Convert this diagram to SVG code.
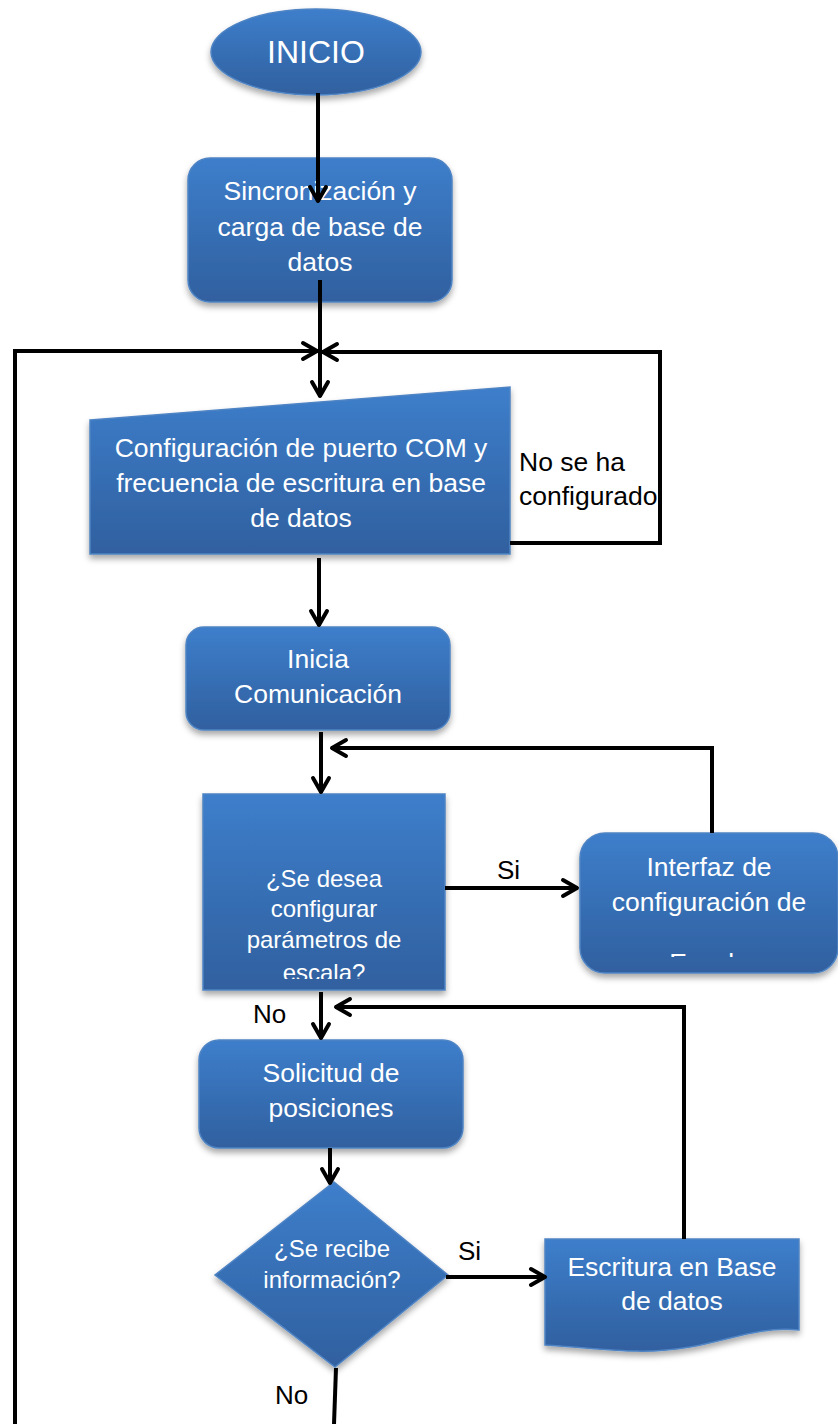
<svg xmlns="http://www.w3.org/2000/svg" width="838" height="1424" viewBox="0 0 838 1424">
<defs>
<linearGradient id="g" x1="0" y1="0" x2="0" y2="1">
<stop offset="0" stop-color="#3d7ecb"/>
<stop offset="1" stop-color="#30609f"/>
</linearGradient>
<filter id="sh" x="-10%" y="-10%" width="120%" height="130%">
<feDropShadow dx="0" dy="4" stdDeviation="3" flood-color="#000" flood-opacity="0.35"/>
</filter>
<marker id="ah" viewBox="0 0 20 22" refX="18" refY="11" markerWidth="20" markerHeight="22" markerUnits="userSpaceOnUse" orient="auto">
<path d="M3,3 L17,11 L3,19" fill="none" stroke="#000" stroke-width="4" stroke-linecap="round" stroke-linejoin="round"/>
</marker>
<clipPath id="clipDec"><rect x="203" y="794" width="242" height="185"/></clipPath>
<clipPath id="clipInt"><rect x="580" y="833" width="258" height="124"/></clipPath>
<style>
.n{fill:url(#g);stroke:#4f84c4;stroke-width:1.5;filter:url(#sh)}
.t{font-family:"Liberation Sans",Arial,sans-serif;fill:#fff;text-anchor:middle}
.lb{font-family:"Liberation Sans",Arial,sans-serif;fill:#000}
.c{fill:none;stroke:#000;stroke-width:4;stroke-linejoin:miter}
.a{marker-end:url(#ah)}
</style>
</defs>

<g id="n-inicio">
<ellipse class="n" cx="316" cy="52" rx="105" ry="43"/>
<text class="t" x="316" y="63" font-size="32">INICIO</text>
</g>

<g id="n-sincronizacion">
<rect class="n" x="188" y="158" width="264" height="144" rx="22"/>
<text class="t" font-size="26.5"><tspan x="320" y="200">Sincronización y</tspan><tspan x="320" y="236">carga de base de</tspan><tspan x="320" y="271">datos</tspan></text>
</g>

<g id="n-configuracion">
<polygon class="n" points="90,420 510,387 510,554 90,554"/>
<text class="t" font-size="26.5"><tspan x="301" y="457">Configuración de puerto COM y</tspan><tspan x="301" y="492">frecuencia de escritura en base</tspan><tspan x="301" y="527">de datos</tspan></text>
</g>

<g id="lbl-noconf">
<text class="lb" font-size="26.5"><tspan x="519" y="471">No se ha</tspan><tspan x="519" y="505">configurado</tspan></text>
</g>

<g id="n-inicia">
<rect class="n" x="186" y="627" width="264" height="103" rx="18"/>
<text class="t" font-size="26.5"><tspan x="318" y="668">Inicia</tspan><tspan x="318" y="703">Comunicación</tspan></text>
</g>

<g id="n-desea">
<rect class="n" x="203" y="794" width="242" height="196"/>
<text class="t" font-size="24" clip-path="url(#clipDec)"><tspan x="324" y="887">¿Se desea</tspan><tspan x="324" y="917">configurar</tspan><tspan x="324" y="948">parámetros de</tspan><tspan x="324" y="981">escala?</tspan></text>
</g>

<g id="lbl-si1"><text class="lb" font-size="26" x="497" y="879">Si</text></g>

<g id="n-interfaz">
<rect class="n" x="580" y="833" width="258" height="140" rx="25"/>
<text class="t" font-size="26.5" clip-path="url(#clipInt)"><tspan x="709" y="876">Interfaz de</tspan><tspan x="709" y="911">configuración de</tspan><tspan x="709" y="972">Escala</tspan></text>
</g>

<g id="lbl-no1"><text class="lb" font-size="26" x="253" y="1023">No</text></g>

<g id="n-solicitud">
<rect class="n" x="199" y="1040" width="264" height="108" rx="20"/>
<text class="t" font-size="26.5"><tspan x="331" y="1082">Solicitud de</tspan><tspan x="331" y="1117">posiciones</tspan></text>
</g>

<g id="n-recibe">
<polygon class="n" points="334,1182 448,1275 335,1367 215,1275"/>
<text class="t" font-size="24"><tspan x="332" y="1257">¿Se recibe</tspan><tspan x="332" y="1288">información?</tspan></text>
</g>

<g id="lbl-si2"><text class="lb" font-size="26" x="458" y="1260">Si</text></g>

<g id="n-escritura">
<path class="n" d="M545,1239 H799 V1330 C760,1326 730,1340 690,1347 C640,1356 600,1348 545,1345 Z"/>
<text class="t" font-size="26.5"><tspan x="672" y="1276">Escritura en Base</tspan><tspan x="672" y="1310">de datos</tspan></text>
</g>

<g id="lbl-no2"><text class="lb" font-size="26" x="275" y="1404">No</text></g>

<g id="connectors">
<path class="c a" d="M318,93 V202"/>
<path class="c a" d="M320,280 V397"/>
<path class="c a" d="M15,1424 V351 H318"/>
<path class="c a" d="M510,543 H660 V352 H322"/>
<path class="c a" d="M319,558 V626"/>
<path class="c a" d="M321,732 V793"/>
<path class="c a" d="M712,833 V748 H331"/>
<path class="c a" d="M445,888 H578"/>
<path class="c a" d="M321,992 V1039"/>
<path class="c a" d="M684,1239 V1007 H335"/>
<path class="c a" d="M330,1148 V1184"/>
<path class="c a" d="M446,1277 H546"/>
<path class="c" d="M336,1368 L334,1424"/>
</g>
</svg>
